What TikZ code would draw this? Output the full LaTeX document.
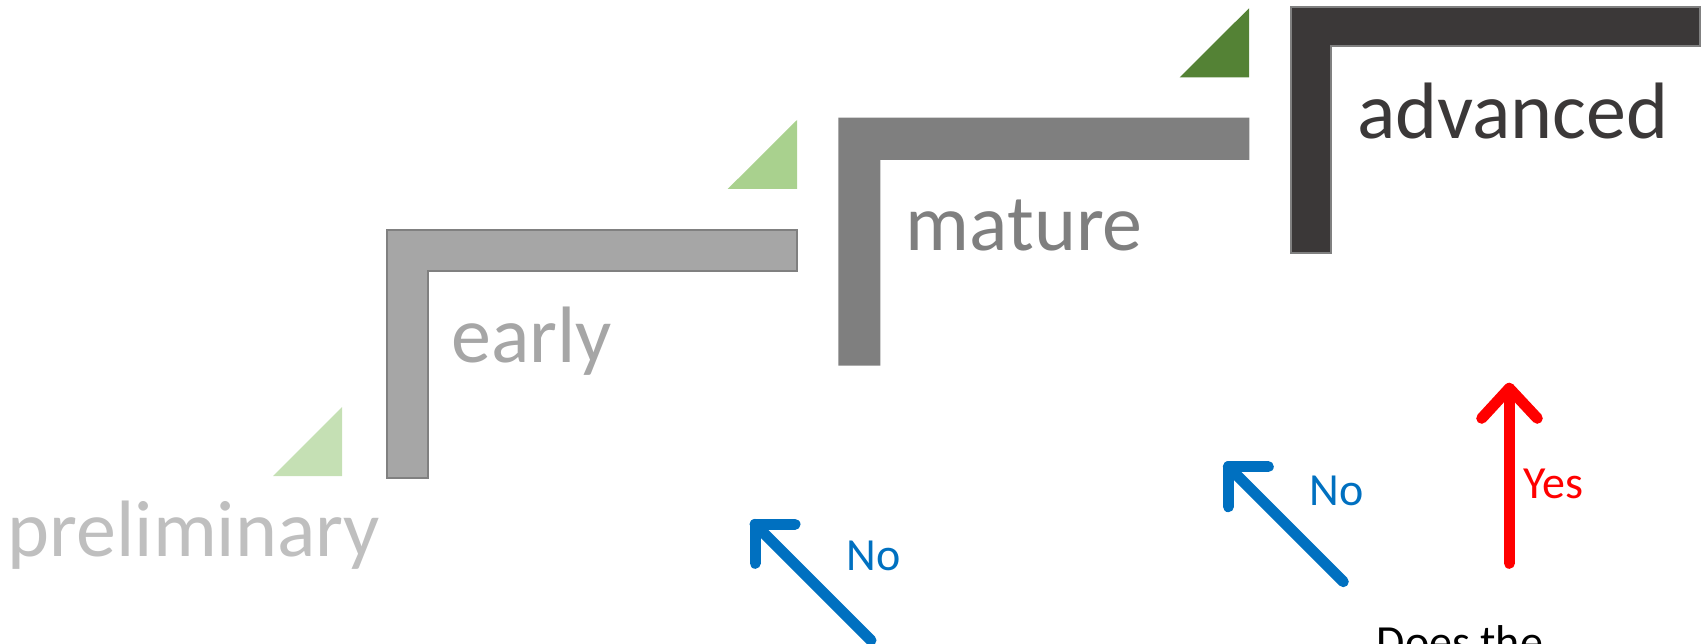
\documentclass[tikz,border=0pt]{standalone}
\usepackage{fontspec}
\setmainfont{Carlito}
\definecolor{prelimgray}{HTML}{BFBFBF}
\definecolor{earlygray}{HTML}{A6A6A6}
\definecolor{maturegray}{HTML}{7F7F7F}
\definecolor{advdark}{HTML}{3B3838}
\definecolor{edgegray}{HTML}{808080}
\definecolor{greenA}{HTML}{C5E0B4}
\definecolor{greenB}{HTML}{A9D18E}
\definecolor{greenC}{HTML}{548235}
\definecolor{arrowblue}{HTML}{0070C0}
\definecolor{arrowred}{HTML}{FF0000}
\begin{document}
\begin{tikzpicture}[x=1pt,y=-1pt,
  stagetext/.style={anchor=base west,inner sep=0pt,font=\fontsize{80}{96}\selectfont},
  labeltext/.style={anchor=base west,inner sep=0pt,font=\fontsize{46}{55}\selectfont},
  arrowline/.style={line width=11pt,line cap=round,line join=round}]
\useasboundingbox (0,0) rectangle (1701,644);
\clip (0,0) rectangle (1701,644);

% triangles
\fill[greenA] (273,476) -- (342,407) -- (342,476) -- cycle;
\fill[greenB] (727.7,189) -- (797,120) -- (797,189) -- cycle;
\fill[greenC] (1179.5,77.5) -- (1249,8.3) -- (1249,77.5) -- cycle;

% L shapes
\filldraw[fill=earlygray,draw=edgegray,line width=2pt]
  (387,477.5) -- (387,230.5) -- (797,230.5) -- (797,271) -- (427.7,271) -- (427.7,477.5) -- cycle;
\fill[maturegray]
  (838.3,365.7) -- (838.3,117.7) -- (1249.3,117.7) -- (1249.3,160) -- (880.3,160) -- (880.3,365.7) -- cycle;
\filldraw[fill=advdark,draw=edgegray,line width=2pt]
  (1290.5,253.5) -- (1290.5,7.5) -- (1699.5,7.5) -- (1699.5,46.5) -- (1330.5,46.5) -- (1330.5,253.5) -- cycle;

% stage texts
\node[stagetext,text=prelimgray] (prelim) at (7.5,556.7) {preliminary};
\node[stagetext,text=earlygray] (early) at (451,362.3) {early};
\node[stagetext,text=maturegray] (mature) at (905.5,250.7) {mature};
\node[stagetext,text=advdark] (advanced) at (1357,138.3) {advanced};

% arrows
\coordinate (b1tip) at (755,524.3);
\coordinate (b1h) at (795,524.3);
\coordinate (b1v) at (755,563.3);
\coordinate (b1tail) at (871,640.3);
\draw[arrowline,arrowblue] (b1h) -- (b1tip) -- (b1v);
\draw[arrowline,arrowblue] (b1tip) -- (b1tail);

\coordinate (b2tip) at (1228.3,466.7);
\coordinate (b2h) at (1268.3,466.7);
\coordinate (b2v) at (1228.3,506.7);
\coordinate (b2tail) at (1343.3,581.7);
\draw[arrowline,arrowblue] (b2h) -- (b2tip) -- (b2v);
\draw[arrowline,arrowblue] (b2tip) -- (b2tail);

\coordinate (rtip) at (1509.3,388.3);
\coordinate (rl) at (1481.7,418.3);
\coordinate (rr) at (1537.3,418.3);
\coordinate (rtail) at (1509.3,563.3);
\draw[arrowline,arrowred] (rl) -- (rtip) -- (rr);
\draw[arrowline,arrowred] (rtip) -- (rtail);

% labels
\node[labeltext,text=arrowblue] (no1) at (846.5,570.7) {No};
\node[labeltext,text=arrowblue] (no2) at (1309.2,505.7) {No};
\node[labeltext,text=arrowred] (yes) at (1523.3,498.3) {Yes};
\node[labeltext,text=black] (question) at (1376.5,657.5) {Does the};
\end{tikzpicture}
\end{document}
